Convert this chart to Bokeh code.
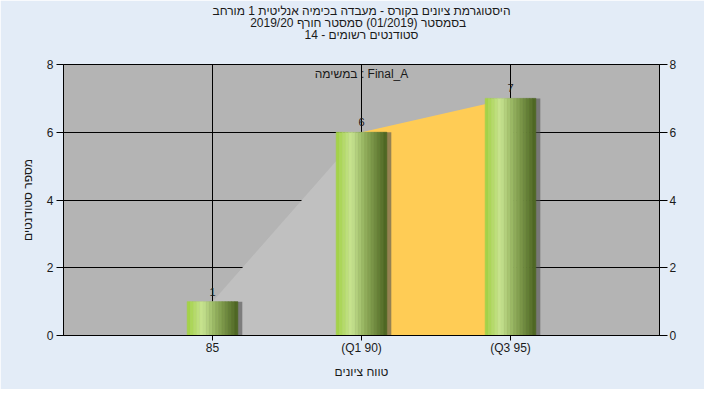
from bokeh.plotting import figure
from bokeh.models import Range1d, LinearAxis, FixedTicker, Label, Title
from bokeh.embed import file_html
from bokeh.resources import INLINE

# ---- data ----
categories = ["85", "(Q1 90)", "(Q3 95)"]
positions = [1, 2, 3]
counts = [1, 6, 7]
y_ticks = [0, 2, 4, 6, 8]

title_lines = [
    "היסטוגרמת ציונים בקורס - מעבדה בכימיה אנליטית 1 מורחב",
    "בסמסטר  (01/2019)  סמסטר חורף 2019/20",
    "סטודנטים רשומים - 14",
]
series_label = "במשימה : Final_A"
x_label = "טווח ציונים"
y_label = "מספר סטודנטים"

FONT = "Liberation Sans"
TXT = "#1a1a1a"

p = figure(width=704, height=389, output_backend="svg", toolbar_location=None,
           x_range=Range1d(0, 4), y_range=Range1d(0, 8),
           min_border_left=63, min_border_right=45, min_border_top=64, min_border_bottom=54)
p.background_fill_color = "#b4b4b4"
p.border_fill_color = "#e3ecf7"
p.outline_line_color = "black"
p.outline_line_width = 1

# title lines (added nearest-first, so the last one ends on top); a blank spacer sits
# between the last title line and the frame
p.add_layout(Title(text=" ", align="center", text_font_size="12px", standoff=9), "above")
for line in reversed(title_lines):
    p.add_layout(Title(text=line, align="center", text_font_size="12px",
                       text_font_style="normal", text_color=TXT, text_font=FONT,
                       standoff=-4), "above")

# grid
p.xgrid.ticker = FixedTicker(ticks=positions)
p.ygrid.ticker = FixedTicker(ticks=y_ticks)
p.grid.grid_line_color = "black"
p.grid.grid_line_width = 1

# area series behind the bars
p.varea(x=positions[0:2], y1=0, y2=counts[0:2], fill_color="#c0c0c0")
p.varea(x=positions[1:3], y1=0, y2=counts[1:3], fill_color="#ffcc55")

# bar shadows
bar_w = 0.34
p.vbar(x=[v + 0.03 for v in positions], top=counts, width=bar_w,
       fill_color="#505050", fill_alpha=0.6, line_color=None)

# gradient bars drawn as thin strips
stops = [(0.0, (160, 208, 64)), (0.3, (200, 228, 146)), (0.55, (150, 180, 96)), (1.0, (74, 98, 32))]

def grad(f):
    for (f0, c0), (f1, c1) in zip(stops[:-1], stops[1:]):
        if f0 <= f <= f1:
            t = (f - f0) / (f1 - f0)
            return "#%02x%02x%02x" % tuple(int(round(a + (b - a) * t)) for a, b in zip(c0, c1))
    return "#%02x%02x%02x" % stops[-1][1]

N = 16
sw = bar_w / N
for i in range(N):
    f = (i + 0.5) / N
    col = grad(f)
    p.vbar(x=[v - bar_w / 2 + f * bar_w for v in positions], top=counts, width=sw,
           fill_color=col, line_color=col, line_width=0.6)

# value labels
p.text(x=positions, y=counts, text=[str(c) for c in counts], text_align="center",
       text_baseline="bottom", y_offset=-6, text_font_size="11px", text_color=TXT,
       text_font={"value": FONT})

p.add_layout(Label(x=2, y=7.72, text=series_label, text_align="center",
                   text_baseline="middle", text_font_size="12px", text_color=TXT,
                   text_font=FONT))

# axes
def style_axis(ax, tick_out):
    ax.major_tick_out = tick_out
    ax.major_tick_in = 0
    ax.minor_tick_line_color = None
    ax.axis_line_color = "black"
    ax.major_tick_line_color = "black"
    ax.major_label_text_font_size = "12px"
    ax.major_label_text_color = TXT
    ax.major_label_text_font = FONT
    ax.axis_label_text_font_size = "12px"
    ax.axis_label_text_font_style = "normal"
    ax.axis_label_text_color = TXT
    ax.axis_label_text_font = FONT

p.xaxis.ticker = FixedTicker(ticks=positions)
p.xaxis.major_label_overrides = {pos: lab for pos, lab in zip(positions, categories)}
p.xaxis.axis_label = x_label
style_axis(p.xaxis[0], 5)
p.xaxis.major_label_standoff = 0
p.xaxis.axis_label_standoff = 7

p.yaxis.ticker = FixedTicker(ticks=y_ticks)
p.yaxis.axis_label = y_label
style_axis(p.yaxis[0], 7)
p.yaxis.major_label_standoff = 3
p.yaxis.axis_label_standoff = 9

ry = LinearAxis(ticker=FixedTicker(ticks=y_ticks))
style_axis(ry, 8)
ry.major_label_standoff = 2
p.add_layout(ry, "right")

open("out.html", "w").write(file_html(p, INLINE))
